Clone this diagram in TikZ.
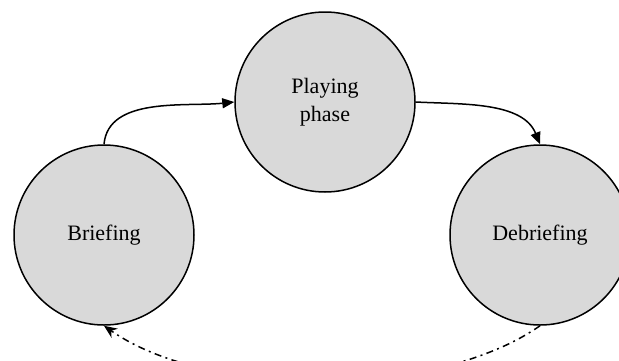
\documentclass[tikz,border=0pt]{standalone}
\usepackage{fontspec}
\setmainfont{Liberation Serif}
\usetikzlibrary{arrows.meta}

\begin{document}
\begin{tikzpicture}[x=0.5pt, y=0.5pt,
    phase/.style={circle, draw, line width=0.75pt, fill={rgb,255:red,217;green,217;blue,217},
                  minimum size=90pt, inner sep=0pt, align=center, font=\fontsize{11}{14}\selectfont},
    flow/.style={line width=0.75pt, -{Triangle[length=6pt, width=5pt]}},
    back/.style={line width=0.75pt, dash pattern=on 3.5pt off 2.2pt on 1pt off 2.2pt, -{Stealth[length=6.5pt, width=5.5pt]}}]
                    \useasboundingbox (0, 0) rectangle (619, 360);
                    
                    \node [phase] (briefing) at(104, 125) {Briefing};
                    \node [phase] (playing) at(325, 258) {Playing \\ phase};
                    \node [phase] (debriefing) at(540, 125) {Debriefing};
                    
                    \draw [flow](briefing.north) to [out=85, in=186, looseness=0.9](playing.west);
                    \draw [flow](playing.east) to [out=-3, in=112, looseness=0.9](debriefing.north);
                    
                    \draw [back](debriefing.south) to [out=-145, in=-35, looseness=0.75](briefing.south);
                    \end{tikzpicture}
\end{document}
